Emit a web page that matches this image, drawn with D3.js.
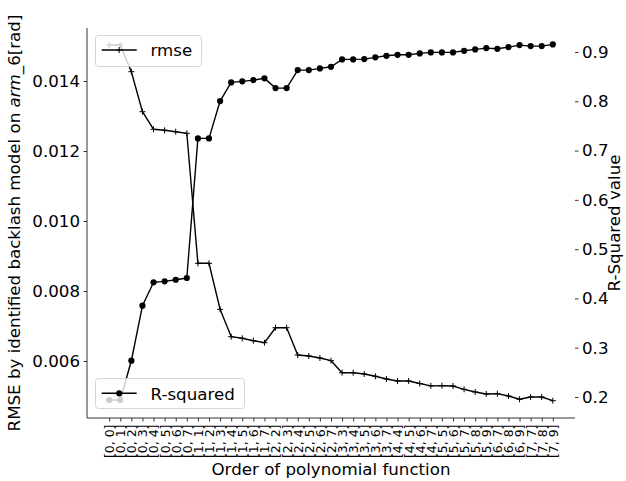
<!DOCTYPE html>
<html>
<head>
<meta charset="utf-8">
<script src="https://cdn.jsdelivr.net/npm/d3@7/dist/d3.min.js"></script>
<style>
  html, body { margin: 0; padding: 0; background: #fff; }
  svg { display: block; font-family: "DejaVu Sans", sans-serif; }
</style>
</head>
<body>
<svg id="chart" width="626" height="481"></svg>
<script>
const categories = ["[0, 0]","[0, 1]","[0, 2]","[0, 3]","[0, 4]","[0, 5]","[0, 6]","[0, 7]",
  "[1, 1]","[1, 2]","[1, 3]","[1, 4]","[1, 5]","[1, 6]","[1, 7]",
  "[2, 2]","[2, 3]","[2, 4]","[2, 5]","[2, 6]","[2, 7]",
  "[3, 3]","[3, 4]","[3, 5]","[3, 6]","[3, 7]",
  "[4, 4]","[4, 5]","[4, 6]","[4, 7]",
  "[5, 5]","[5, 6]","[5, 7]","[5, 8]","[5, 9]",
  "[6, 7]","[6, 8]","[6, 9]",
  "[7, 7]","[7, 8]","[7, 9]"];
const rmse = [0.01503,0.01503,0.014266,0.013123,0.01262,0.012591,0.012551,0.012506,
  0.008791,0.008791,0.007477,0.006694,0.006649,0.00658,0.006523,
  0.006951,0.006951,0.006171,0.006143,0.006086,0.006009,
  0.005666,0.005666,0.005629,0.005563,0.005486,
  0.005429,0.005429,0.005357,0.00529,
  0.005294,0.005286,0.005191,0.005114,0.005057,
  0.005066,0.005,0.004906,
  0.004971,0.004971,0.004866];
const rSquared = [0.1939,0.1939,0.2736,0.3852,0.4327,0.4347,0.4379,0.4414,
  0.7247,0.7247,0.8004,0.8383,0.8404,0.843,0.8465,
  0.8268,0.8268,0.8633,0.8633,0.8667,0.87,
  0.885,0.885,0.8856,0.8891,0.8923,
  0.8943,0.8943,0.8972,0.8992,
  0.8992,0.8992,0.9024,0.9053,0.9079,
  0.9065,0.9099,0.914,
  0.912,0.912,0.9154];
const leftTicks = [0.006, 0.008, 0.010, 0.012, 0.014];
const rightTicks = [0.2, 0.3, 0.4, 0.5, 0.6, 0.7, 0.8, 0.9];

const svg = d3.select("#chart");
const L = 87, R = 575, T = 28, B = 418;
const FS = 16.67;

const x = d3.scalePoint().domain(categories).range([L, R]).padding(2);
const yL = d3.scaleLinear().domain([0.0043714, 0.0155143]).range([B, T]);
const yR = d3.scaleLinear().domain([0.15739, 0.94869]).range([B, T]);

// left axis
const gL = svg.append("g").attr("transform", `translate(${L},0)`)
  .call(d3.axisLeft(yL).tickValues(leftTicks).tickFormat(d3.format(".3f")).tickSize(3.5).tickPadding(3.5));
gL.select(".domain").attr("d", `M0,${T}V${B}`).attr("stroke", "#333").attr("stroke-width", 1);
gL.selectAll(".tick line").attr("stroke", "#333");
gL.selectAll(".tick text").attr("font-size", FS).attr("fill", "#000").attr("font-family", "DejaVu Sans");

// right axis (no spine)
const gR = svg.append("g").attr("transform", `translate(${R},0)`)
  .call(d3.axisRight(yR).tickValues(rightTicks).tickFormat(d3.format(".1f")).tickSize(3.5).tickPadding(3.5));
gR.select(".domain").remove();
gR.selectAll(".tick line").attr("stroke", "#333");
gR.selectAll(".tick text").attr("font-size", FS).attr("fill", "#000").attr("font-family", "DejaVu Sans");

// bottom axis
const gB = svg.append("g").attr("transform", `translate(0,${B})`)
  .call(d3.axisBottom(x).tickSize(3.5).tickPadding(0));
gB.select(".domain").attr("d", `M${L},0H${R}`).attr("stroke", "#333").attr("stroke-width", 1);
gB.selectAll(".tick line").attr("stroke", "#333");
gB.selectAll(".tick text")
  .attr("font-size", 12.5).attr("fill", "#000").attr("font-family", "DejaVu Sans")
  .attr("text-anchor", "end")
  .attr("transform", "translate(0,6.5) rotate(-90)")
  .attr("x", 0).attr("y", 0).attr("dy", "0.35em");

// axis titles
svg.append("text").attr("x", (L + R) / 2).attr("y", 475).attr("text-anchor", "middle")
  .attr("font-size", FS).text("Order of polynomial function");
const yl = svg.append("text").attr("transform", `translate(20,${(T + B) / 2}) rotate(-90)`)
  .attr("text-anchor", "middle").attr("font-size", FS);
yl.append("tspan").text("RMSE by identified backlash model on ");
yl.append("tspan").attr("font-style", "italic").text("arm");
yl.append("tspan").text("_6[rad]");
svg.append("text").attr("transform", `translate(620,${(T + B) / 2}) rotate(-90)`)
  .attr("text-anchor", "middle").attr("font-size", FS).text("R-Squared value");

const plus = (g, cx, cy, s) => {
  g.append("path").attr("d", `M${cx - s},${cy}H${cx + s}M${cx},${cy - s}V${cy + s}`)
    .attr("stroke", "#000").attr("stroke-width", 1).attr("fill", "none");
};

// rmse series (left axis)
const gRm = svg.append("g");
gRm.append("path").datum(rmse)
  .attr("d", d3.line().x((d, i) => x(categories[i])).y(d => yL(d)))
  .attr("fill", "none").attr("stroke", "#000").attr("stroke-width", 1.4);
rmse.forEach((d, i) => plus(gRm, x(categories[i]), yL(d), 3));

// rmse legend
const lg1 = svg.append("g");
lg1.append("rect").attr("x", 95.5).attr("y", 35.5).attr("width", 106).attr("height", 31).attr("rx", 3)
  .attr("fill", "#fff").attr("fill-opacity", 0.8).attr("stroke", "#ccc").attr("stroke-opacity", 0.8);
lg1.append("line").attr("x1", 101.7).attr("x2", 136.7).attr("y1", 50).attr("y2", 50)
  .attr("stroke", "#000").attr("stroke-width", 1.4);
plus(lg1, 119.2, 50, 3);
lg1.append("text").attr("x", 150.5).attr("y", 56).attr("font-size", FS).text("rmse");

// R-squared series (right axis)
const gRs = svg.append("g");
gRs.append("path").datum(rSquared)
  .attr("d", d3.line().x((d, i) => x(categories[i])).y(d => yR(d)))
  .attr("fill", "none").attr("stroke", "#000").attr("stroke-width", 1.4);
gRs.selectAll("circle").data(rSquared).join("circle")
  .attr("cx", (d, i) => x(categories[i])).attr("cy", d => yR(d)).attr("r", 3.1).attr("fill", "#000");

// R-squared legend
const lg2 = svg.append("g");
lg2.append("rect").attr("x", 95.5).attr("y", 378.5).attr("width", 149).attr("height", 30).attr("rx", 3)
  .attr("fill", "#fff").attr("fill-opacity", 0.8).attr("stroke", "#ccc").attr("stroke-opacity", 0.8);
lg2.append("line").attr("x1", 101.7).attr("x2", 136.7).attr("y1", 393.3).attr("y2", 393.3)
  .attr("stroke", "#000").attr("stroke-width", 1.4);
lg2.append("circle").attr("cx", 119.2).attr("cy", 393.3).attr("r", 3.1).attr("fill", "#000");
lg2.append("text").attr("x", 150.5).attr("y", 399.5).attr("font-size", FS).text("R-squared");
</script>
</body>
</html>
